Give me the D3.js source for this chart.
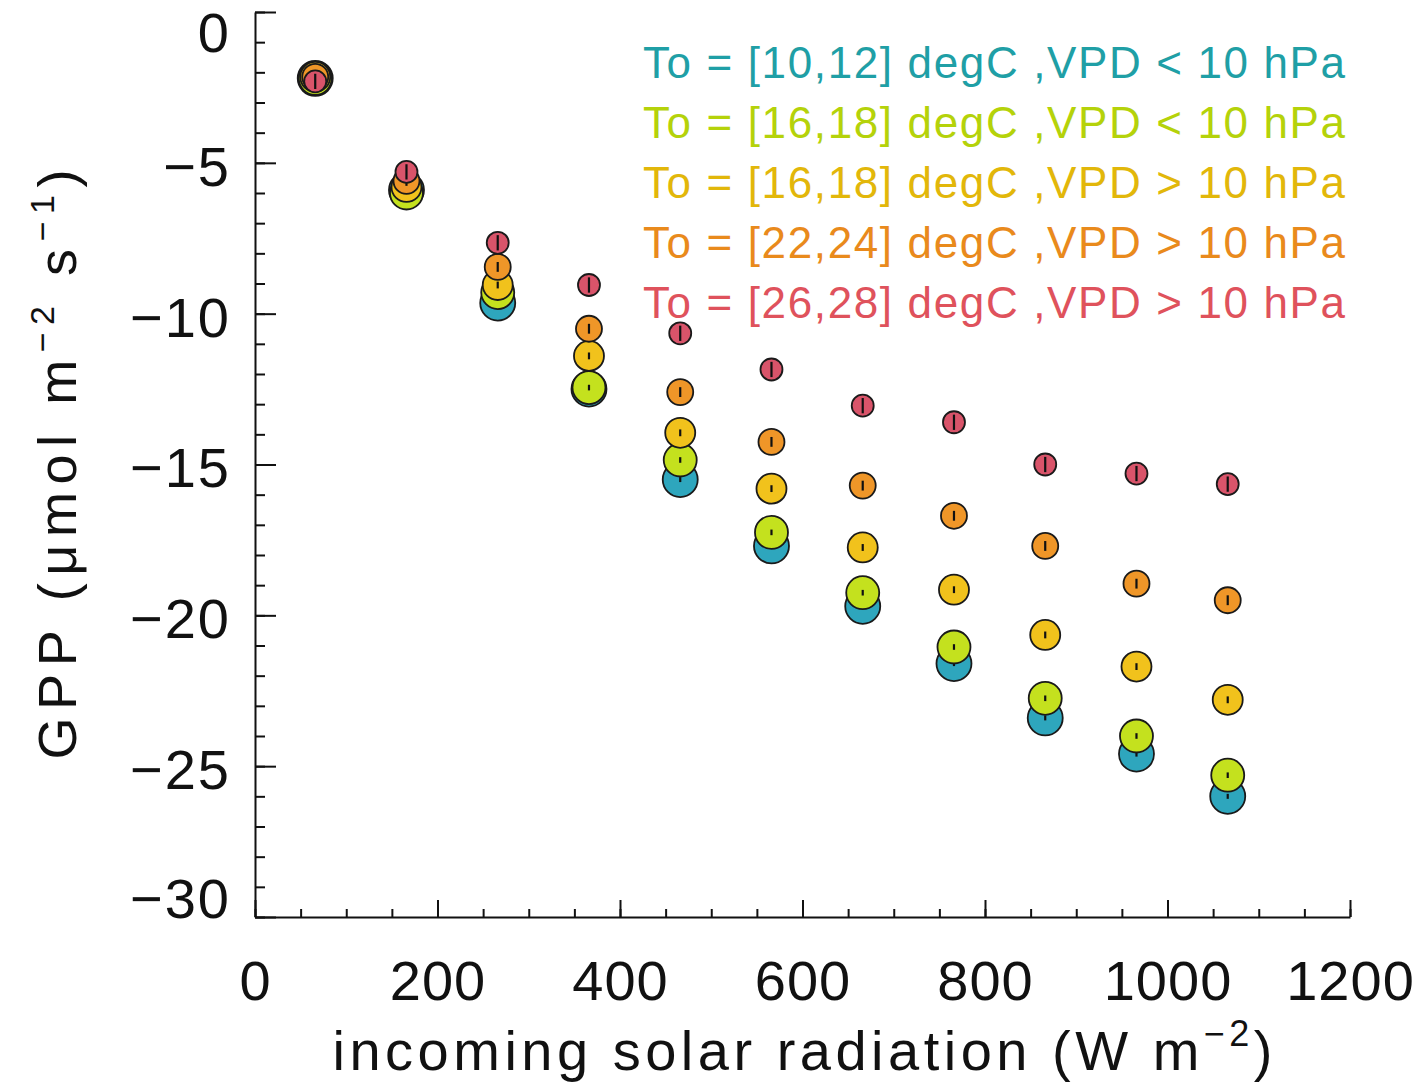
<!DOCTYPE html>
<html>
<head>
<meta charset="utf-8">
<script src="https://cdn.jsdelivr.net/npm/d3@7"></script>
<style>
  body { margin: 0; background: #fff; }
  text { font-family: "Liberation Sans", Arial, sans-serif; }
</style>
</head>
<body>
<div id="chart"></div>
<script>
var w = 1422;
var h = 1084;

// bin centres of incoming solar radiation (W m-2)
var radiation = [66, 166, 266, 366, 466, 566, 666, 766, 866, 966, 1066];

// GPP per class
var gppT10low  = [-2.2, -5.9, -9.65, -12.5, -15.5, -17.7, -19.7, -21.6, -23.4, -24.6, -26.0];
var gppT16low  = [-2.2, -6.0, -9.3, -12.45, -14.85, -17.25, -19.25, -21.05, -22.75, -24.0, -25.3];
var gppT16high = [-2.15, -5.8, -9.05, -11.4, -13.95, -15.8, -17.75, -19.15, -20.65, -21.7, -22.8];
var gppT22high = [-2.15, -5.6, -8.45, -10.5, -12.6, -14.25, -15.7, -16.7, -17.7, -18.95, -19.5];
var gppT26high = [-2.3, -5.3, -7.65, -9.05, -10.65, -11.85, -13.05, -13.6, -15.0, -15.3, -15.65];

// half length of the little error bars for each class
var errBars = [0.05, 0.06, 0.08, 0.13, 0.22];

var labels = [
  "To = [10,12] degC ,VPD < 10 hPa",
  "To = [16,18] degC ,VPD < 10 hPa",
  "To = [16,18] degC ,VPD > 10 hPa",
  "To = [22,24] degC ,VPD > 10 hPa",
  "To = [26,28] degC ,VPD > 10 hPa"
];
var fillColors = ["#2ea6bd", "#c4e11e", "#f1c21c", "#ef9628", "#d9546a"];
var textColors = ["#1f9fa6", "#b5d20a", "#e2b70a", "#e98a1c", "#df525c"];
var radii = [17.5, 16.5, 15, 13, 11];

var xTicks = [0, 200, 400, 600, 800, 1000, 1200];
var yTicks = [0, -5, -10, -15, -20, -25, -30];

var seriesData = [gppT10low, gppT16low, gppT16high, gppT22high, gppT26high];

var x = d3.scaleLinear().domain([0, 1200]).range([255, 1350]);
var y = d3.scaleLinear().domain([-30, 0]).range([917, 12]);

var svg = d3.select("#chart")
  .append("svg")
  .attr("width", w)
  .attr("height", h);

//minor ticks first
svg.append("g")
  .attr("transform", "translate(0," + y(-30) + ")")
  .call(d3.axisBottom(x).tickValues(d3.range(0, 1201, 50)).tickSizeInner(-8).tickSizeOuter(0).tickFormat(""))
  .call(function(g) { g.select(".domain").remove(); });

svg.append("g")
  .attr("transform", "translate(" + x(0) + ",0)")
  .call(d3.axisLeft(y).tickValues(d3.range(-30, 1, 1)).tickSizeInner(-10).tickSizeOuter(0).tickFormat(""))
  .call(function(g) { g.select(".domain").remove(); });

//major x axis
var xAxis = svg.append("g")
  .attr("transform", "translate(0," + y(-30) + ")")
  .call(d3.axisBottom(x).tickValues(xTicks).tickSizeInner(-17).tickSizeOuter(0).tickPadding(43)
    .tickFormat(d3.format("d")));
xAxis.selectAll("text")
  .style("font-size", "56px")
  .style("letter-spacing", "1px")
  .attr("fill", "#111");

//major y axis
var yAxis = svg.append("g")
  .attr("transform", "translate(" + x(0) + ",0)")
  .call(d3.axisLeft(y).tickValues(yTicks).tickSizeInner(-21).tickSizeOuter(0).tickPadding(24)
    .tickFormat(function(d) { return d == 0 ? "0" : "\u2212" + Math.abs(d); }));
yAxis.selectAll("text")
  .style("font-size", "56px")
  .style("letter-spacing", "2px")
  .attr("fill", "#111")
  .attr("dy", function(d) {
    if (d == 0) return "0.7em";
    if (d == -30) return "0em";
    return "0.4em";
  });

svg.selectAll(".domain, .tick line")
  .attr("stroke", "#111")
  .attr("stroke-width", 2);

//axis titles
var xTitle = svg.append("text")
  .attr("x", (x(0) + x(1200)) / 2)
  .attr("y", 1070)
  .attr("text-anchor", "middle")
  .attr("textLength", 940)
  .attr("lengthAdjust", "spacing")
  .style("font-size", "56px")
  .attr("fill", "#111");
xTitle.append("tspan").text("incoming solar radiation (W m");
xTitle.append("tspan").attr("dy", -24).style("font-size", "36px").text("\u22122");
xTitle.append("tspan").attr("dy", 24).text(")");

var yTitle = svg.append("text")
  .attr("transform", "translate(76," + (y(0) + y(-30)) / 2 + ") rotate(-90)")
  .attr("text-anchor", "middle")
  .attr("textLength", 590)
  .attr("lengthAdjust", "spacing")
  .style("font-size", "54px")
  .attr("fill", "#111");
yTitle.append("tspan").text("GPP (\u03bcmol m");
yTitle.append("tspan").attr("dy", -22).style("font-size", "34px").text("\u22122");
yTitle.append("tspan").attr("dy", 22).text(" s");
yTitle.append("tspan").attr("dy", -22).style("font-size", "34px").text("\u22121");
yTitle.append("tspan").attr("dy", 22).text(")");

//points, one group per class, drawn in legend order
seriesData.forEach(function(vals, k) {
  var pts = vals.map(function(v, i) { return { x: radiation[i], v: v }; });
  var g = svg.append("g");
  g.selectAll("circle")
    .data(pts)
    .enter()
    .append("circle")
    .attr("cx", function(d) { return x(d.x); })
    .attr("cy", function(d) { return y(d.v); })
    .attr("r", radii[k])
    .attr("fill", fillColors[k])
    .attr("stroke", "#1a1a1a")
    .attr("stroke-width", 1.8);
  g.selectAll("line")
    .data(pts)
    .enter()
    .append("line")
    .attr("x1", function(d) { return x(d.x); })
    .attr("x2", function(d) { return x(d.x); })
    .attr("y1", function(d) { return y(d.v - errBars[k]) + 1; })
    .attr("y2", function(d) { return y(d.v + errBars[k]) - 1; })
    .attr("stroke", "#111")
    .attr("stroke-width", 2.2);
});

//legend
svg.append("g")
  .selectAll("text")
  .data(labels)
  .enter()
  .append("text")
  .attr("x", 1345)
  .attr("y", function(d, i) { return 78 + i * 60; })
  .attr("text-anchor", "end")
  .attr("textLength", 702)
  .attr("lengthAdjust", "spacing")
  .style("font-size", "44px")
  .attr("fill", function(d, i) { return textColors[i]; })
  .text(function(d) { return d; });
</script>
</body>
</html>
